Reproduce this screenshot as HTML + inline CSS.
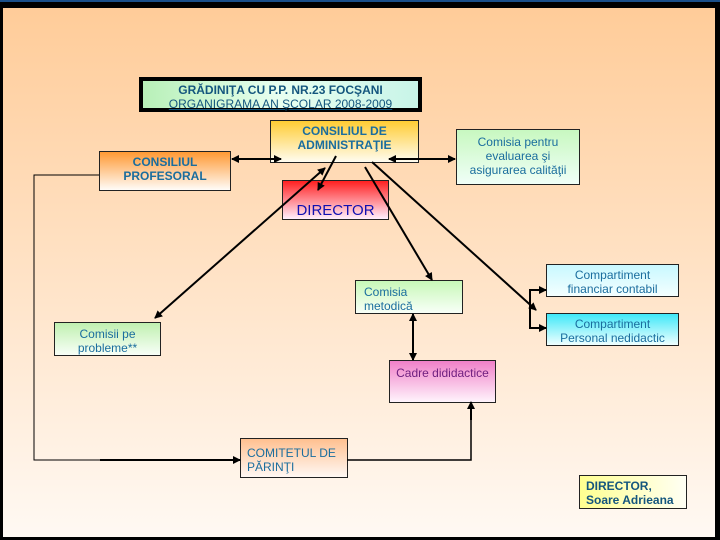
<!DOCTYPE html>
<html><head><meta charset="utf-8"><style>
body{margin:0;width:720px;height:540px;background:#000;overflow:hidden;font-family:"Liberation Sans",sans-serif}
#c{position:absolute;left:3px;top:8px;width:712px;height:529px;background:linear-gradient(#ffcc99,#fff9f3)}
.b{position:absolute;border:1px solid #222;box-sizing:border-box;text-align:center;font-size:12px;line-height:14px;color:#1a6d9e}
svg{z-index:5}
</style></head><body>
<div style="position:absolute;left:0;top:0;width:720px;height:2px;background:#1a4f8a"></div>
<div id="c"></div>
<div class="b" style="left:139px;top:77px;width:283px;height:35px;border:4px solid #000;background:linear-gradient(90deg,#b8f0b8,#e8fff0,#c8f4e8);color:#14567e;padding-top:2px">
<b>GRĂDINIŢA CU P.P. NR.23 FOCŞANI</b><br><span style="text-decoration:underline">ORGANIGRAMA AN ŞCOLAR 2008-2009</span></div>
<div class="b" style="left:270px;top:120px;width:149px;height:43px;background:linear-gradient(#ffcc33,#fffcf0);font-weight:bold;padding-top:3px">CONSILIUL DE<br>ADMINISTRAŢIE</div>
<div class="b" style="left:99px;top:151px;width:132px;height:40px;background:linear-gradient(#ff9933,#fffcf8);font-weight:bold;padding-top:3px">CONSILIUL<br>PROFESORAL</div>
<div class="b" style="left:456px;top:129px;width:124px;height:56px;background:linear-gradient(#c8f8c0,#f0fff8);padding-top:5px">Comisia pentru<br>evaluarea şi<br>asigurarea calităţii</div>
<div class="b" style="left:282px;top:180px;width:107px;height:40px;background:linear-gradient(#ff2020,#fff0ff);color:#1010b0;font-size:15px;padding-top:21px;line-height:17px">DIRECTOR</div>
<div class="b" style="left:355px;top:280px;width:108px;height:34px;background:linear-gradient(#c8f8b8,#f8fff8);text-align:left;padding:4px 0 0 8px">Comisia<br>metodică</div>
<div class="b" style="left:54px;top:322px;width:107px;height:34px;background:linear-gradient(#c0f0b0,#f8fff8);padding-top:4px">Comisii pe<br>probleme**</div>
<div class="b" style="left:546px;top:264px;width:133px;height:33px;background:linear-gradient(#c8f8ff,#f4ffff);padding-top:3px">Compartiment<br>financiar contabil</div>
<div class="b" style="left:546px;top:313px;width:133px;height:33px;background:linear-gradient(#40e8f8,#f0ffff);padding-top:3px">Compartiment<br>Personal nedidactic</div>
<div class="b" style="left:389px;top:360px;width:107px;height:43px;background:linear-gradient(#f080c8,#fff4fc);color:#702080;padding-top:5px">Cadre dididactice</div>
<div class="b" style="left:240px;top:438px;width:108px;height:40px;background:linear-gradient(#ffc090,#fff8f4);text-align:left;padding:7px 0 0 6px">COMITETUL DE<br>PĂRINŢI</div>
<div class="b" style="left:579px;top:475px;width:108px;height:34px;background:linear-gradient(90deg,#ffff90,#fffff4);color:#14567e;font-weight:bold;text-align:left;padding:3px 0 0 6px">DIRECTOR,<br>Soare Adrieana</div>
<svg style="position:absolute;left:0;top:0" width="720" height="540">
<defs><marker id="a" markerWidth="8" markerHeight="8" refX="7" refY="4" orient="auto-start-reverse" markerUnits="userSpaceOnUse"><path d="M0,0L8,4L0,8z" fill="#000"/></marker></defs>
<g stroke="#000" stroke-width="2" fill="none">
<line x1="232" y1="159" x2="281" y2="159" marker-start="url(#a)" marker-end="url(#a)"/>
<line x1="389" y1="159" x2="455" y2="159" marker-start="url(#a)" marker-end="url(#a)"/>
<line x1="336" y1="156" x2="318" y2="190" marker-end="url(#a)"/>
<line x1="325" y1="168" x2="155" y2="318" marker-start="url(#a)" marker-end="url(#a)"/>
<line x1="365" y1="167" x2="432" y2="280" marker-end="url(#a)"/>
<line x1="372" y1="162" x2="536" y2="310" marker-end="url(#a)"/>
<polyline points="540,290 530,290 530,328 540,328"/>
<line x1="535" y1="290" x2="546" y2="290" marker-end="url(#a)"/>
<line x1="535" y1="328" x2="546" y2="328" marker-end="url(#a)"/>
<line x1="413" y1="314" x2="413" y2="360" marker-start="url(#a)" marker-end="url(#a)"/>
<polyline points="200,460 34,460 34,175 99,175" stroke-width="1"/>
<line x1="100" y1="460" x2="240" y2="460" marker-end="url(#a)"/>
<polyline points="347,460 471,460 471,410" stroke-width="1.5"/>
<line x1="471" y1="420" x2="471" y2="402" marker-end="url(#a)"/>
</g></svg>
</body></html>
